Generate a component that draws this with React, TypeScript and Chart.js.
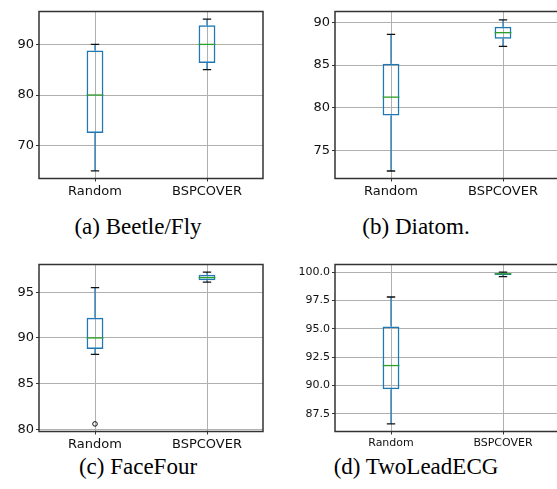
import React, { useEffect, useRef } from "react";
import { Chart, registerables } from "chart.js";
Chart.register(...registerables);

const categories = ["Random", "BSPCOVER"];

// (a) Beetle/Fly
const beetleWhiskerLow = [65, 85];
const beetleQ1 = [72.5, 86.3];
const beetleMedian = [80, 90];
const beetleQ3 = [88.8, 93.8];
const beetleWhiskerHigh = [90, 95];
const beetleOutliers: number[][] = [[], []];
const beetleTicks = [70, 80, 90];

// (b) Diatom.
const diatomWhiskerLow = [72.6, 87.2];
const diatomQ1 = [79.1, 88.1];
const diatomMedian = [81.25, 88.8];
const diatomQ3 = [85.15, 89.5];
const diatomWhiskerHigh = [88.6, 90.3];
const diatomOutliers: number[][] = [[], []];
const diatomTicks = [75, 80, 85, 90];

// (c) FaceFour
const faceWhiskerLow = [88.2, 96.1];
const faceQ1 = [88.8, 96.3];
const faceMedian = [90, 96.6];
const faceQ3 = [92.2, 96.9];
const faceWhiskerHigh = [95.5, 97.2];
const faceOutliers: number[][] = [[80.6], []];
const faceTicks = [80, 85, 90, 95];

// (d) TwoLeadECG
const ecgWhiskerLow = [86.6, 99.6];
const ecgQ1 = [89.65, 99.75];
const ecgMedian = [91.75, 99.85];
const ecgQ3 = [95.2, 99.9];
const ecgWhiskerHigh = [97.8, 100.0];
const ecgOutliers: number[][] = [[], []];
const ecgTicks = [87.5, 90.0, 92.5, 95.0, 97.5, 100.0];

const captions = ["(a) Beetle/Fly", "(b) Diatom.", "(c) FaceFour", "(d) TwoLeadECG"];

type Panel = {
  low: number[]; q1: number[]; med: number[]; q3: number[]; high: number[];
  outliers: number[][]; ticks: number[]; min: number; max: number;
  decimals: number; fontSize: number; left: number; top: number;
};

const panels: Panel[] = [
  { low: beetleWhiskerLow, q1: beetleQ1, med: beetleMedian, q3: beetleQ3, high: beetleWhiskerHigh,
    outliers: beetleOutliers, ticks: beetleTicks, min: 63.5, max: 96.5, decimals: 0, fontSize: 13, left: 0, top: 0 },
  { low: diatomWhiskerLow, q1: diatomQ1, med: diatomMedian, q3: diatomQ3, high: diatomWhiskerHigh,
    outliers: diatomOutliers, ticks: diatomTicks, min: 71.72, max: 91.28, decimals: 0, fontSize: 13, left: 296, top: 0 },
  { low: faceWhiskerLow, q1: faceQ1, med: faceMedian, q3: faceQ3, high: faceWhiskerHigh,
    outliers: faceOutliers, ticks: faceTicks, min: 79.77, max: 98.03, decimals: 0, fontSize: 13, left: 0, top: 253 },
  { low: ecgWhiskerLow, q1: ecgQ1, med: ecgMedian, q3: ecgQ3, high: ecgWhiskerHigh,
    outliers: ecgOutliers, ticks: ecgTicks, min: 85.93, max: 100.67, decimals: 1, fontSize: 11, left: 296, top: 253 },
];

const BLUE = "#1f77b4";
const GREEN = "#2ca02c";
const GRID = "#b0b0b0";

const boxPlugin = {
  id: "boxExtras",
  afterDatasetsDraw(chart: any, _args: any, opts: any) {
    const p: Panel = opts.panel;
    if (!p) return;
    const { ctx } = chart;
    const y = chart.scales.y;
    const meta = chart.getDatasetMeta(0);
    ctx.save();
    categories.forEach((_c, i) => {
      const bar = meta.data[i];
      const { x: cx, width } = bar.getProps(["x", "width"], true);
      const half = width / 2;
      const yq1 = y.getPixelForValue(p.q1[i]);
      const yq3 = y.getPixelForValue(p.q3[i]);
      const yl = y.getPixelForValue(p.low[i]);
      const yh = y.getPixelForValue(p.high[i]);
      const ym = y.getPixelForValue(p.med[i]);
      // whiskers
      ctx.strokeStyle = BLUE;
      ctx.lineWidth = 1.3;
      ctx.beginPath();
      ctx.moveTo(cx, yq3); ctx.lineTo(cx, yh);
      ctx.moveTo(cx, yq1); ctx.lineTo(cx, yl);
      ctx.stroke();
      // caps
      ctx.strokeStyle = "#111";
      ctx.beginPath();
      ctx.moveTo(cx - half / 2, yh); ctx.lineTo(cx + half / 2, yh);
      ctx.moveTo(cx - half / 2, yl); ctx.lineTo(cx + half / 2, yl);
      ctx.stroke();
      // median
      ctx.strokeStyle = GREEN;
      ctx.beginPath();
      ctx.moveTo(cx - half, ym); ctx.lineTo(cx + half, ym);
      ctx.stroke();
      // outliers
      ctx.strokeStyle = "#111";
      ctx.lineWidth = 1;
      p.outliers[i].forEach((v) => {
        ctx.beginPath();
        ctx.arc(cx, y.getPixelForValue(v), 2.3, 0, Math.PI * 2);
        ctx.stroke();
      });
    });
    ctx.restore();
  },
  afterDraw(chart: any) {
    const { ctx, chartArea: a } = chart;
    ctx.save();
    ctx.strokeStyle = "#333";
    ctx.lineWidth = 1.5;
    ctx.strokeRect(a.left, a.top, a.right - a.left, a.bottom - a.top);
    ctx.restore();
  },
};

function BoxChart({ panel }: { panel: Panel }) {
  const ref = useRef<HTMLCanvasElement>(null);
  useEffect(() => {
    if (!ref.current) return;
    const font = { family: "DejaVu Sans", size: panel.fontSize };
    const chart = new Chart(ref.current, {
      type: "bar",
      data: {
        labels: categories,
        datasets: [
          {
            data: categories.map((_c, i) => [panel.q1[i], panel.q3[i]]) as any,
            backgroundColor: "rgba(0,0,0,0)",
            borderColor: BLUE,
            borderWidth: 1.5,
            borderSkipped: false,
            barPercentage: 0.15,
            categoryPercentage: 1,
          },
        ],
      },
      options: {
        responsive: false,
        animation: false,
        devicePixelRatio: 1,
        layout: { padding: { top: 11.5, right: 7, left: 0, bottom: 0 } },
        plugins: {
          legend: { display: false },
          tooltip: { enabled: false },
          boxExtras: { panel },
        } as any,
        scales: {
          x: {
            type: "category",
            offset: true,
            grid: { offset: false, color: GRID, lineWidth: 1, drawTicks: true, tickLength: 3, tickColor: "#333" },
            border: { display: false },
            ticks: { font, color: "#111", padding: 2, maxRotation: 0 },
            afterFit: (s: any) => { s.height = 21.5; },
          },
          y: {
            type: "linear",
            min: panel.min,
            max: panel.max,
            grid: { color: GRID, lineWidth: 1, drawTicks: true, tickLength: 3, tickColor: "#333" },
            border: { display: false },
            ticks: {
              font, color: "#111", padding: 2,
              callback: (v: any) => Number(v).toFixed(panel.decimals),
            },
            afterBuildTicks: (s: any) => { s.ticks = panel.ticks.map((v) => ({ value: v })); },
            afterFit: (s: any) => { s.width = 39; },
          },
        },
      },
      plugins: [boxPlugin],
    });
    return () => chart.destroy();
  }, [panel]);
  return (
    <canvas
      ref={ref}
      width={270}
      height={200}
      style={{ position: "absolute", left: panel.left, top: panel.top, width: 270, height: 200 }}
    />
  );
}

export default function App() {
  const capStyle = (left: number, top: number): React.CSSProperties => ({
    position: "absolute",
    left,
    top,
    width: 278,
    textAlign: "center",
    fontFamily: "'Liberation Serif', 'Times New Roman', serif",
    fontSize: 23,
    lineHeight: "23px",
    color: "#000",
    whiteSpace: "nowrap",
  });
  return (
    <div style={{ position: "fixed", left: 0, top: 0, width: 557, height: 489, overflow: "hidden", background: "#fff" }}>
      {panels.map((p, i) => (
        <BoxChart key={i} panel={p} />
      ))}
      <div style={capStyle(-1, 215)}>{captions[0]}</div>
      <div style={capStyle(277, 215)}>{captions[1]}</div>
      <div style={capStyle(-1, 455)}>{captions[2]}</div>
      <div style={capStyle(277, 455)}>{captions[3]}</div>
    </div>
  );
}
